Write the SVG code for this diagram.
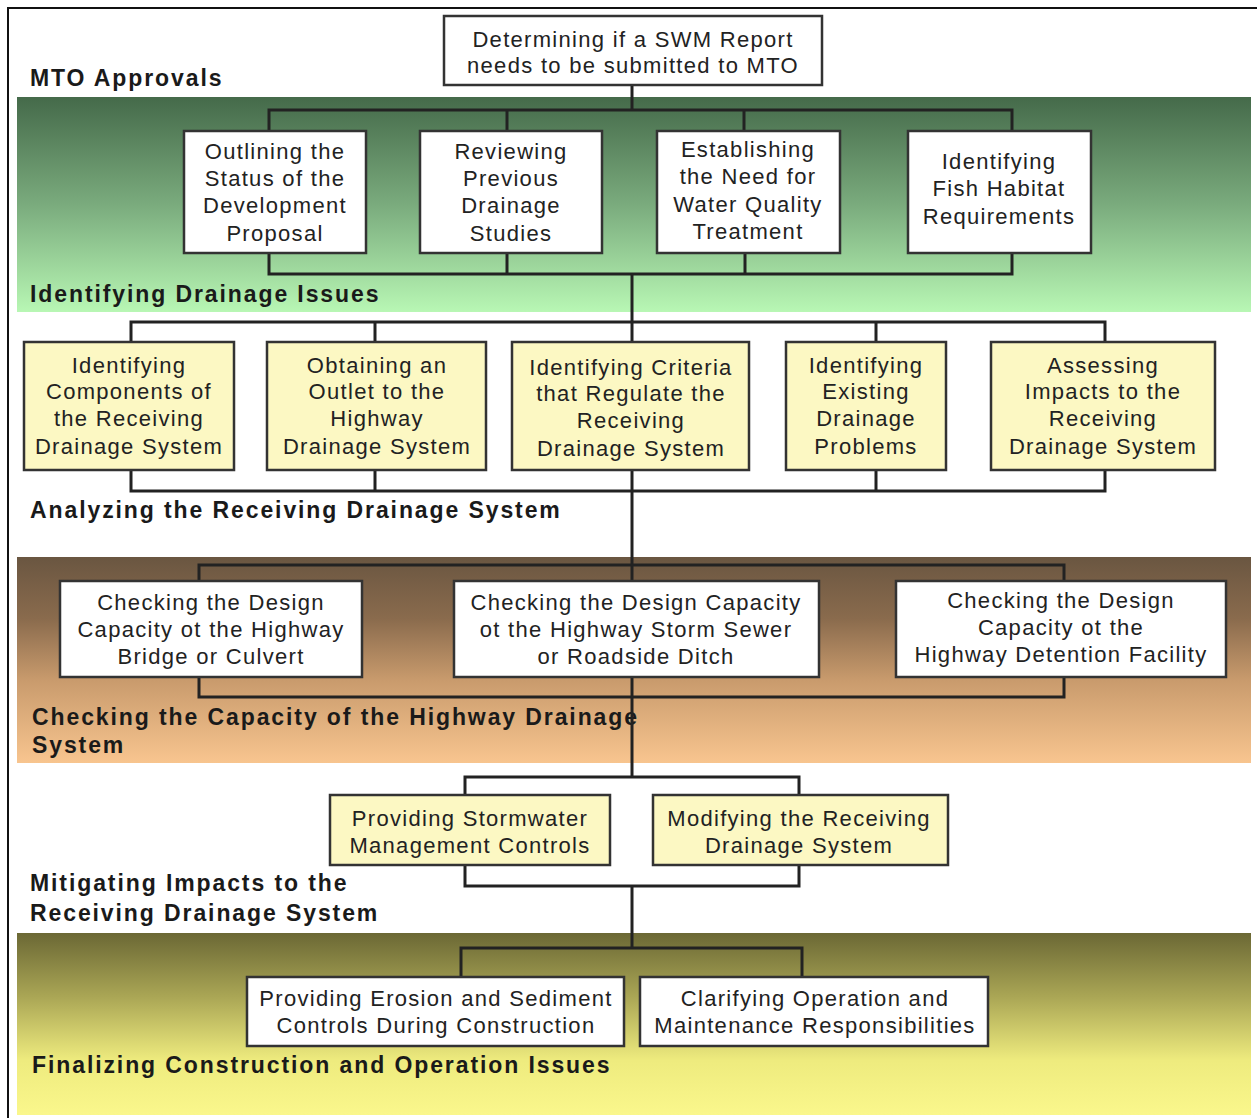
<svg xmlns="http://www.w3.org/2000/svg" width="1257" height="1118" viewBox="0 0 1257 1118">
<defs>
<linearGradient id="gGreen" x1="0" y1="0" x2="0" y2="1">
<stop offset="0" stop-color="#456a4a"/>
<stop offset="0.5" stop-color="#7aab7d"/>
<stop offset="1" stop-color="#b8f7b4"/>
</linearGradient>
<linearGradient id="gBrown" x1="0" y1="0" x2="0" y2="1">
<stop offset="0" stop-color="#6a5641"/>
<stop offset="0.3" stop-color="#8a6b4d"/>
<stop offset="0.6" stop-color="#c99b6d"/>
<stop offset="1" stop-color="#f8c58f"/>
</linearGradient>
<linearGradient id="gOlive" x1="0" y1="0" x2="0" y2="1">
<stop offset="0" stop-color="#6b6835"/>
<stop offset="0.35" stop-color="#aaa655"/>
<stop offset="0.7" stop-color="#eeeb7e"/>
<stop offset="1" stop-color="#faf78c"/>
</linearGradient>
</defs>
<style>
.box{stroke:#333;stroke-width:2.5}
.w{fill:#ffffff}
.y{fill:#fcf8c3}
.t{font-family:"Liberation Sans",Arial,sans-serif;font-size:22px;letter-spacing:1.3px;fill:#222;text-anchor:middle}
.lbl{font-family:"Liberation Sans",Arial,sans-serif;font-size:23px;font-weight:bold;letter-spacing:1.9px;fill:#1a1a1a}
.c{fill:none;stroke:#222;stroke-width:3}
</style>
<rect x="0" y="0" width="1257" height="1118" fill="#ffffff"/>
<path d="M8 1118 V8 H1257" fill="none" stroke="#111" stroke-width="2"/>

<g id="bands">
<rect x="17" y="97" width="1234" height="215" fill="url(#gGreen)"/>
<rect x="17" y="557" width="1234" height="206" fill="url(#gBrown)"/>
<rect x="17" y="933" width="1234" height="182" fill="url(#gOlive)"/>
</g>

<g id="labels">
<text class="lbl" x="30" y="86">MTO Approvals</text>
<text class="lbl" x="30" y="302">Identifying Drainage Issues</text>
<text class="lbl" x="30" y="518">Analyzing the Receiving Drainage System</text>
<text class="lbl" x="32" y="725">Checking the Capacity of the Highway Drainage</text>
<text class="lbl" x="32" y="753">System</text>
<text class="lbl" x="30" y="891">Mitigating Impacts to the</text>
<text class="lbl" x="30" y="921">Receiving Drainage System</text>
<text class="lbl" x="32" y="1073">Finalizing Construction and Operation Issues</text>
</g>

<g id="connectors">
<path class="c" d="M632 85 V110 M269 131 V110 H1012 V131 M507 110 V131 M744 110 V131"/>
<path class="c" d="M269 252 V274 H1012 V252 M507 252 V274 M745 252 V274 M632 274 V322"/>
<path class="c" d="M131 342 V322 H1105 V342 M375 322 V342 M632 322 V342 M876 322 V342"/>
<path class="c" d="M131 470 V491 H1105 V470 M375 470 V491 M632 470 V491 M876 470 V491"/>
<path class="c" d="M632 491 V777"/>
<path class="c" d="M199 581 V565 H1064 V697 H199 Z"/>
<path class="c" d="M465 795 V777 H799 V795 M465 865 V886 H799 V865 M632 886 V948"/>
<path class="c" d="M461 977 V948 H802 V977"/>
</g>

<g id="n0"><rect class="box w" x="444" y="16" width="378" height="69"/>
<text class="t" x="633" y="47">Determining if a SWM Report</text>
<text class="t" x="633" y="73">needs to be submitted to MTO</text></g>

<g id="n1"><rect class="box w" x="184" y="131" width="182" height="122"/>
<text class="t" x="275" y="159">Outlining the</text>
<text class="t" x="275" y="186">Status of the</text>
<text class="t" x="275" y="213">Development</text>
<text class="t" x="275" y="241">Proposal</text></g>

<g id="n2"><rect class="box w" x="420" y="131" width="182" height="122"/>
<text class="t" x="511" y="159">Reviewing</text>
<text class="t" x="511" y="186">Previous</text>
<text class="t" x="511" y="213">Drainage</text>
<text class="t" x="511" y="241">Studies</text></g>

<g id="n3"><rect class="box w" x="657" y="131" width="183" height="122"/>
<text class="t" x="748" y="157">Establishing</text>
<text class="t" x="748" y="184">the Need for</text>
<text class="t" x="748" y="212">Water Quality</text>
<text class="t" x="748" y="239">Treatment</text></g>

<g id="n4"><rect class="box w" x="908" y="131" width="183" height="122"/>
<text class="t" x="999" y="169">Identifying</text>
<text class="t" x="999" y="196">Fish Habitat</text>
<text class="t" x="999" y="224">Requirements</text></g>

<g id="n5"><rect class="box y" x="24" y="342" width="210" height="128"/>
<text class="t" x="129" y="373">Identifying</text>
<text class="t" x="129" y="399">Components of</text>
<text class="t" x="129" y="426">the Receiving</text>
<text class="t" x="129" y="454">Drainage System</text></g>

<g id="n6"><rect class="box y" x="267" y="342" width="219" height="128"/>
<text class="t" x="377" y="373">Obtaining an</text>
<text class="t" x="377" y="399">Outlet to the</text>
<text class="t" x="377" y="426">Highway</text>
<text class="t" x="377" y="454">Drainage System</text></g>

<g id="n7"><rect class="box y" x="512" y="342" width="237" height="128"/>
<text class="t" x="631" y="375">Identifying Criteria</text>
<text class="t" x="631" y="401">that Regulate the</text>
<text class="t" x="631" y="428">Receiving</text>
<text class="t" x="631" y="456">Drainage System</text></g>

<g id="n8"><rect class="box y" x="786" y="342" width="160" height="128"/>
<text class="t" x="866" y="373">Identifying</text>
<text class="t" x="866" y="399">Existing</text>
<text class="t" x="866" y="426">Drainage</text>
<text class="t" x="866" y="454">Problems</text></g>

<g id="n9"><rect class="box y" x="991" y="342" width="224" height="128"/>
<text class="t" x="1103" y="373">Assessing</text>
<text class="t" x="1103" y="399">Impacts to the</text>
<text class="t" x="1103" y="426">Receiving</text>
<text class="t" x="1103" y="454">Drainage System</text></g>

<g id="n10"><rect class="box w" x="60" y="581" width="302" height="96"/>
<text class="t" x="211" y="610">Checking the Design</text>
<text class="t" x="211" y="637">Capacity ot the Highway</text>
<text class="t" x="211" y="664">Bridge or Culvert</text></g>

<g id="n11"><rect class="box w" x="454" y="581" width="365" height="96"/>
<text class="t" x="636" y="610">Checking the Design Capacity</text>
<text class="t" x="636" y="637">ot the Highway Storm Sewer</text>
<text class="t" x="636" y="664">or Roadside Ditch</text></g>

<g id="n12"><rect class="box w" x="896" y="581" width="330" height="96"/>
<text class="t" x="1061" y="608">Checking the Design</text>
<text class="t" x="1061" y="635">Capacity ot the</text>
<text class="t" x="1061" y="662">Highway Detention Facility</text></g>

<g id="n13"><rect class="box y" x="330" y="795" width="280" height="70"/>
<text class="t" x="470" y="826">Providing Stormwater</text>
<text class="t" x="470" y="853">Management Controls</text></g>

<g id="n14"><rect class="box y" x="653" y="795" width="295" height="70"/>
<text class="t" x="799" y="826">Modifying the Receiving</text>
<text class="t" x="799" y="853">Drainage System</text></g>

<g id="n15"><rect class="box w" x="247" y="977" width="377" height="69"/>
<text class="t" x="436" y="1006">Providing Erosion and Sediment</text>
<text class="t" x="436" y="1033">Controls During Construction</text></g>

<g id="n16"><rect class="box w" x="640" y="977" width="348" height="69"/>
<text class="t" x="815" y="1006">Clarifying Operation and</text>
<text class="t" x="815" y="1033">Maintenance Responsibilities</text></g>
</svg>
